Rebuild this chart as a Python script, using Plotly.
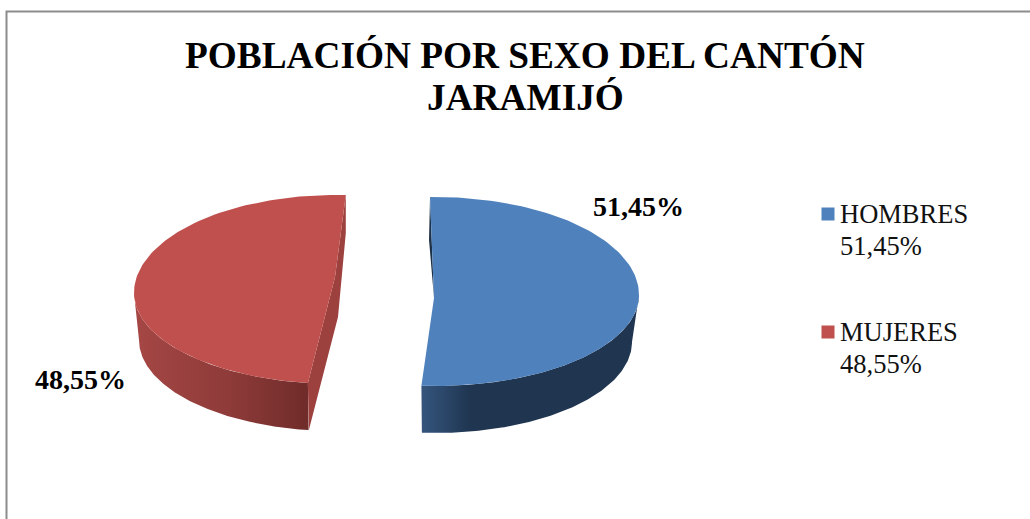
import numpy as np
import plotly.graph_objects as go

# --- data ---
categories = ["HOMBRES", "MUJERES"]
values = [51.45, 48.55]
title_lines = ["POBLACIÓN POR SEXO DEL CANTÓN", "JARAMIJÓ"]

# --- style / geometry (pixel-scaled axes) ---
W, H = 1030, 519
top_colors = ["#4f81bd", "#c0504d"]
cut_colors = ["#1d3148", "#9d413f"]
rim_scales = [
    [[0, "#34547c"], [0.45, "#1f3550"], [1, "#1f3550"]],
    [[0, "#a54745"], [0.55, "#8e3b39"], [1, "#702c2a"]],
]
rim_range = [(423, 530), (134, 307)]
geo = [
    dict(cx=435, cy=295, rx=204, ryt=98, ryb=91, rxb=197, dep=47, start=-1.4, apex=(434, 298), side=1),
    dict(cx=336, cy=293, rx=202, ryt=98, ryb=91, rxb=197, dep=47, start=188, apex=(335, 277), side=-1),
]
label_pos = [(638, 206), (80, 379)]
legend_y = [214, 332]
legend_line_gap = 32


def fmt(v):
    return f"{v:.2f}".replace(".", ",") + "%"


def arc(g, a0, a1, rx=None, dy=0, n=120):
    t = np.radians(np.linspace(a0, a1, n))
    rx = g["rx"] if rx is None else rx
    c = np.cos(t)
    ry = np.where(c > 0, g["ryt"], g["ryb"])
    return g["cx"] + rx * np.sin(t), g["cy"] - ry * c + dy


fig = go.Figure()


def poly(xs, ys, **kw):
    fig.add_trace(go.Scatter(x=list(xs), y=list(ys), mode="lines", fill="toself",
                             line=dict(width=0), hoverinfo="skip", showlegend=False, **kw))


for i, (v, g) in enumerate(zip(values, geo)):
    a0 = g["start"]
    a1 = a0 + 3.6 * v
    # visible rim: the part of the arc lying in the front half
    ra0, ra1 = (90, a1) if g["side"] > 0 else (a0, 270)
    tx, ty = arc(g, ra0, ra1)
    bx, by = arc(g, ra0, ra1, rx=g["rxb"], dy=g["dep"])
    poly(np.r_[tx, bx[::-1]], np.r_[ty, by[::-1]],
         fillgradient=dict(type="horizontal", colorscale=rim_scales[i],
                           start=rim_range[i][0], stop=rim_range[i][1]),
         fillcolor=cut_colors[i])
    sx, sy = arc(g, a0, a0, n=1)
    ex, ey = arc(g, a1, a1, n=1)
    ax, ay = g["apex"]
    if g["side"] < 0:
        poly([ex[0], ax, sx[0], sx[0] + 1, ax + 3, ex[0]],
             [ey[0], ay, sy[0], g["dep"] + sy[0], ay + 40, ey[0] + 38],
             fillcolor=cut_colors[i])
    else:
        poly([sx[0], sx[0] - 1, ax], [sy[0], sy[0] + 43, ay], fillcolor=cut_colors[i])
    # top face
    fx, fy = arc(g, a0, a1)
    poly(np.r_[fx, ax], np.r_[fy, ay], fillcolor=top_colors[i])

# legend swatches
fig.add_trace(go.Scatter(x=[828, 828], y=list(legend_y), mode="markers",
                         marker=dict(symbol="square", size=13, color=top_colors, line=dict(width=0)),
                         hoverinfo="skip", showlegend=False))

ann = []
for line, y in zip(title_lines, [55, 97]):
    ann.append(dict(x=525, y=y, text=f"<b>{line}</b>", showarrow=False, xanchor="center", yanchor="middle",
                    font=dict(family="Liberation Serif", size=37.3, color="black")))
for v, (x, y) in zip(values, label_pos):
    ann.append(dict(x=x, y=y, text=f"<b>{fmt(v)}</b>", showarrow=False, xanchor="center", yanchor="middle",
                    font=dict(family="Liberation Serif", size=28, color="black")))
for c, v, y in zip(categories, values, legend_y):
    for k, line in enumerate([c, fmt(v)]):
        ann.append(dict(x=840, y=y + k * legend_line_gap, text=line, showarrow=False, xanchor="left",
                        yanchor="middle", align="left", xshift=-2,
                        font=dict(family="Liberation Serif", size=26.5, color="#111111")))

fig.update_layout(
    width=W, height=H, margin=dict(l=0, r=0, t=0, b=0),
    paper_bgcolor="white", plot_bgcolor="white", showlegend=False,
    xaxis=dict(range=[0, W], visible=False, fixedrange=True),
    yaxis=dict(range=[H, 0], visible=False, fixedrange=True),
    annotations=ann,
    shapes=[dict(type="path", path=f"M 6.5 {H} L 6.5 11.5 L {W} 11.5",
                 line=dict(color="#8c8c8c", width=2), layer="below")],
)
fig.write_html("out.html", config=dict(displayModeBar=False),
               post_script="document.body.style.margin='0';document.body.style.overflow='hidden';")
